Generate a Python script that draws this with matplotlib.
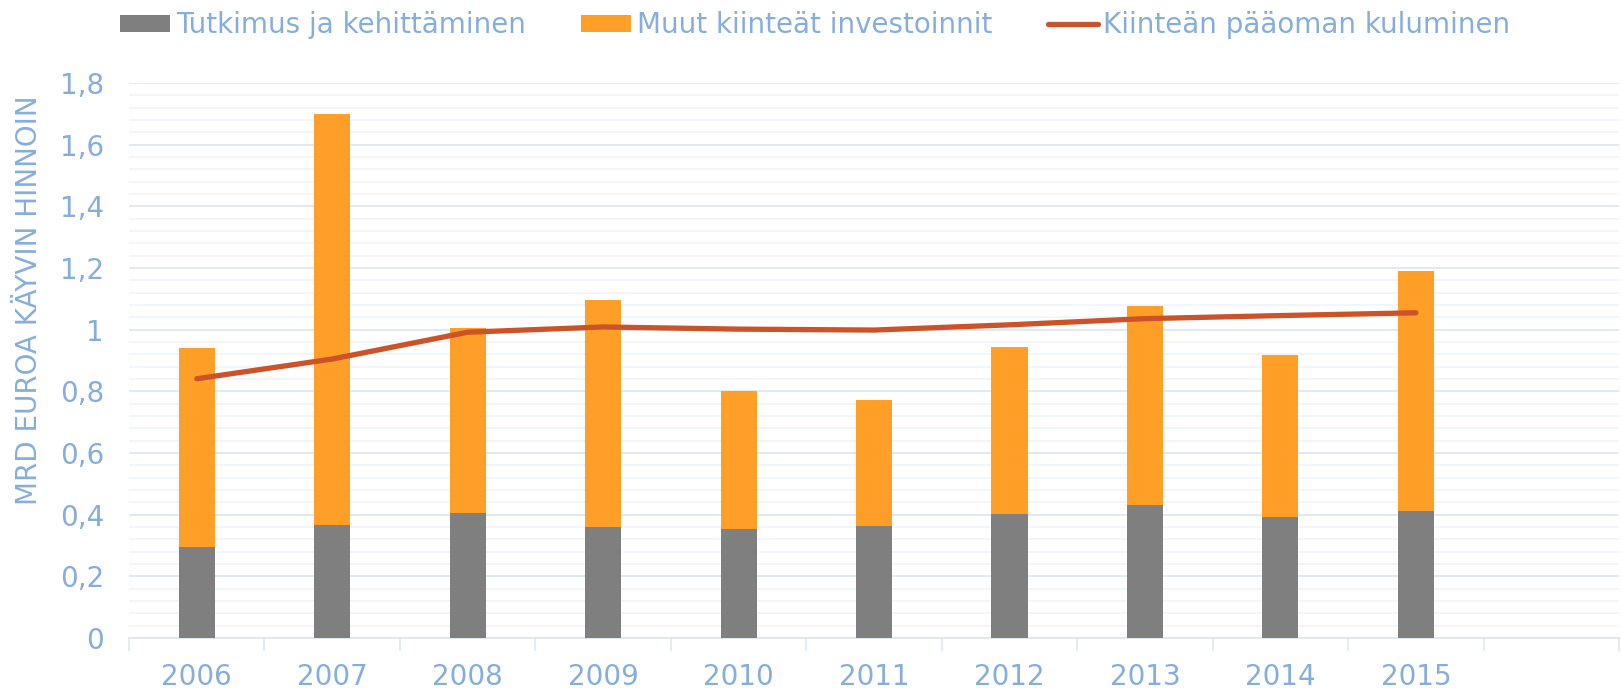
import numpy as np
import matplotlib
matplotlib.use("Agg")
import matplotlib.pyplot as plt
from matplotlib.ticker import MultipleLocator, FixedLocator, NullFormatter

# data (mrd euroa)
years = ['2006', '2007', '2008', '2009', '2010', '2011', '2012', '2013', '2014', '2015']
tutkimus = [0.295, 0.366, 0.406, 0.359, 0.355, 0.362, 0.402, 0.432, 0.392, 0.411]
totals = [0.942, 1.700, 1.006, 1.096, 0.801, 0.771, 0.945, 1.076, 0.919, 1.190]
muut = [t - r for t, r in zip(totals, tutkimus)]
kuluminen = [0.841, 0.905, 0.992, 1.009, 1.002, 0.999, 1.016, 1.036, 1.046, 1.055]

GRAY = '#7F7F7F'
ORANGE = '#FF9F28'
RED = '#CB5229'
TEXT = '#86AEDC'
GRID_MAJOR = '#DEE7F2'
GRID_MINOR = '#EFF4FA'

plt.rcParams['font.family'] = ['DejaVu Sans']

fig = plt.figure(figsize=(16.21, 6.93), dpi=100)
ax = fig.add_axes([0.0796, 0.0794, 0.9192, 0.8006])

x = np.arange(len(years))
w = 0.266
b1 = ax.bar(x, tutkimus, width=w, color=GRAY, label='Tutkimus ja kehittäminen', zorder=3)
b2 = ax.bar(x, muut, width=w, bottom=tutkimus, color=ORANGE, label='Muut kiinteät investoinnit', zorder=3)
l1, = ax.plot(x, kuluminen, color=RED, lw=3.8, solid_capstyle='round', solid_joinstyle='round',
              label='Kiinteän pääoman kuluminen', zorder=4)

ax.set_xlim(-0.5, 10.5)
ax.set_ylim(0, 1.8)

ax.yaxis.set_major_locator(MultipleLocator(0.2))
ax.yaxis.set_minor_locator(MultipleLocator(0.04))
ax.grid(axis='y', which='major', color=GRID_MAJOR, lw=1.3, zorder=0)
ax.grid(axis='y', which='minor', color=GRID_MINOR, lw=1.1, zorder=0)
ax.set_yticklabels([('%.1f' % v).replace('.', ',').replace(',0', '') if v != 0 else '0'
                    for v in ax.get_yticks()])

ax.set_xticks(x)
ax.set_xticklabels(years)
ax.xaxis.set_minor_locator(FixedLocator(np.arange(-0.5, 11, 1.0)))
ax.xaxis.set_minor_formatter(NullFormatter())
ax.tick_params(axis='x', which='major', length=0, pad=18, labelsize=20, labelcolor=TEXT)
ax.tick_params(axis='x', which='minor', length=9, width=1.2, color=GRID_MAJOR)
ax.tick_params(axis='y', which='both', length=0, pad=18, labelsize=20, labelcolor=TEXT)

for s in ['top', 'right', 'left']:
    ax.spines[s].set_visible(False)
ax.spines['bottom'].set_color(GRID_MAJOR)
ax.spines['bottom'].set_linewidth(1.3)

ax.set_ylabel('MRD EUROA KÄYVIN HINNOIN', fontsize=20, color=TEXT)
ax.yaxis.set_label_coords(-0.058, 0.609)

fig.legend(handles=[b1, b2, l1], loc='upper center', bbox_to_anchor=(0.503, 1.02), ncol=3,
           frameon=False, fontsize=20, labelcolor=TEXT, handlelength=1.8, handleheight=0.6,
           handletextpad=0.2, columnspacing=2.0)

fig.savefig('out.png', dpi=100)
